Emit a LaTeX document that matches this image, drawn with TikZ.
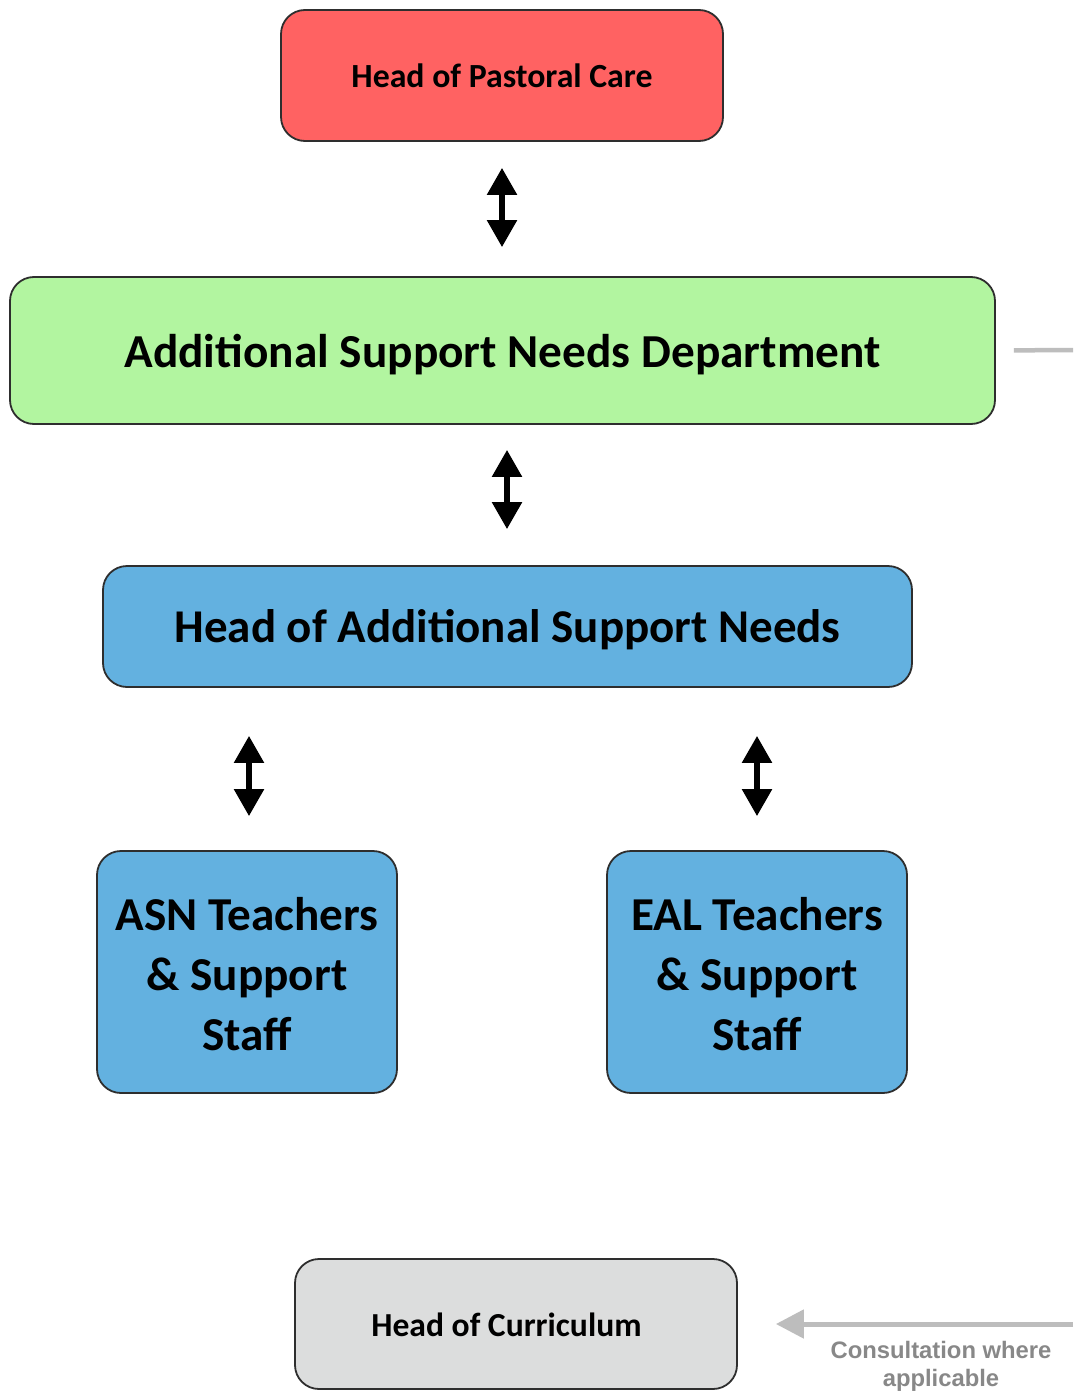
\documentclass[tikz,border=0pt]{standalone}
\usepackage{fontspec}
\setmainfont{Carlito}
\newfontfamily\notefont{Liberation Sans}
\usetikzlibrary{arrows.meta}
\definecolor{pastoral}{HTML}{FF6262}
\definecolor{deptgreen}{HTML}{B2F5A0}
\definecolor{asnblue}{HTML}{63B1E0}
\definecolor{currgray}{HTML}{DCDDDD}
\definecolor{edge}{HTML}{2E2E2E}
\definecolor{linkgray}{HTML}{BDBDBD}
\definecolor{notegray}{HTML}{888888}
\tikzset{
  box/.style={draw=edge, line width=1.8pt, rounded corners=24pt, inner sep=0pt,
    align=center, font=\bfseries, text depth=0pt},
  biarrow/.style={line width=5.5pt, draw=black,
    {Triangle[length=27pt,width=29pt]}-{Triangle[length=27pt,width=29pt]}},
  consult/.style={line width=5pt, draw=linkgray, -{Triangle[length=28pt,width=28pt]}},
}
\begin{document}
\begin{tikzpicture}[x=1pt,y=-1pt]
\useasboundingbox (0,0) rectangle (1073,1391);
\fill[white] (0,0) rectangle (1073,1391);

% boxes (text height fixes where the baseline sits inside each box)
\node[box, fill=pastoral, minimum width=442pt, minimum height=131pt, text height=25pt,
  font=\bfseries\fontsize{33.8}{40}\selectfont] (hpc) at (502,75.5) {Head of Pastoral Care};
\node[box, fill=deptgreen, minimum width=985pt, minimum height=147pt, text height=33pt,
  font=\bfseries\fontsize{47.3}{56}\selectfont] (asnd) at (502.5,350.5) {Additional Support Needs Department};
\node[box, fill=asnblue, minimum width=809pt, minimum height=121pt, text height=31pt,
  font=\bfseries\fontsize{47}{56}\selectfont] (hasn) at (507.5,626.5) {Head of Additional Support Needs};
\node[box, fill=asnblue, minimum width=300pt, minimum height=242pt, text height=157pt,
  font=\bfseries\fontsize{47.2}{60}\selectfont] (asnt) at (247,972) {ASN Teachers\\\& Support\\Staff};
\node[box, fill=asnblue, minimum width=300pt, minimum height=242pt, text height=157pt,
  font=\bfseries\fontsize{47.2}{60}\selectfont] (ealt) at (757,972) {EAL Teachers\\\& Support\\Staff};
\node[box, fill=currgray, minimum width=442pt, minimum height=130pt, text height=24pt,
  font=\bfseries\fontsize{33.6}{40}\selectfont] (hoc) at (516,1324) {Head of Curriculum\hspace*{19pt}};

% two-way links
\draw[biarrow] ([yshift=-26pt]hpc.south) -- ([yshift=29pt]asnd.north -| hpc.south);
\draw[biarrow] ([yshift=-25pt]asnd.south -| 507,0) -- ([yshift=36pt]hasn.north -| 507,0);
\draw[biarrow] ([yshift=-48pt]hasn.south -| 249,0) -- ([yshift=34pt]asnt.north -| 249,0);
\draw[biarrow] ([yshift=-48pt]hasn.south -| ealt.north) -- ([yshift=34pt]ealt.north);

% outgoing line on the right of the department
\coordinate (deptout) at (1073,350);
\draw[line width=4.5pt, draw=linkgray, shorten <=18pt] (asnd.east) -- (deptout);

% consultation arrow into the curriculum box
\coordinate (consultin) at (1073,1324);
\draw[consult, shorten >=38pt] (consultin) -- (hoc.east);
\node[align=center, text=notegray, font=\notefont\bfseries\fontsize{23.8}{28}\selectfont]
  (note) at (941,1366) {Consultation where\\applicable};
\end{tikzpicture}
\end{document}
